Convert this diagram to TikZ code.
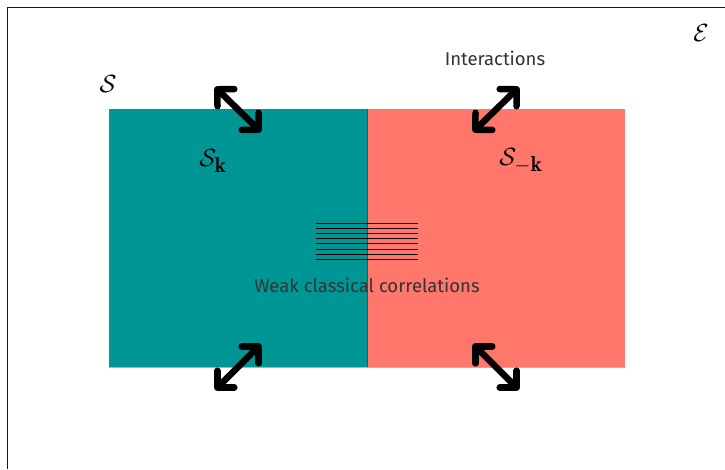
\documentclass[tikz,border=0pt]{standalone}
\usepackage{amsmath}
\usepackage{fontspec}
\setsansfont{Fira Sans}
\usetikzlibrary{arrows.meta,positioning}
\definecolor{modeteal}{RGB}{0,150,150}
\definecolor{modesalmon}{RGB}{255,118,106}
\tikzstyle{half} = [rectangle, minimum width=258pt, minimum height=258pt, inner sep=0pt, outer sep=0pt]
\tikzstyle{setname} = [inner sep=0pt, font=\fontsize{31}{35}\selectfont]
\tikzstyle{caption} = [inner sep=0pt, text=black!80, font=\sffamily\fontsize{18.5}{22}\selectfont]
\tikzstyle{interaction} = [line width=6.5pt, line cap=round, {Straight Barb[round,length=12pt,width=24pt]}-{Straight Barb[round,length=12pt,width=24pt]}]

\begin{document}
\begin{tikzpicture}[x=1pt, y=-1pt]
            \useasboundingbox (0,0) rectangle (725,469);
            % environment frame
            \draw [line width=1.5pt, black!90] (7.5,469) -- (7.5,7.5) -- (725,7.5);
            \node (env) [setname] at (701,33) {$\mathcal{E}$};
            % the two halves
            \node (left) [half, fill=modeteal] at (238,238) {};
            \node (right) [half, fill=modesalmon, right=0pt of left] {};
            \draw [black!70, line width=0.8pt] (left.north east) -- (left.south east);
            \draw [black!30, line width=0.8pt] (left.south west) -- (right.south east);
            \node (sys) [setname] at (108,84) {$\mathcal{S}$};
            \node (sysk) [setname] at (213,161) {$\mathcal{S}_{\mathbf{k}}$};
            \node (sysmk) [setname] at (521,161) {$\mathcal{S}_{-\mathbf{k}}$};
            % correlations
            \foreach \i in {0,...,7}
                \draw [line width=1pt] (316,223.3+\i*5.15) -- (418,223.3+\i*5.15);
            \node (corr) [caption] at (367,285) {Weak classical correlations};
            \node (inter) [caption] at (495,58) {Interactions};
            % interactions with the environment
            \coordinate (a1) at (215,87);
            \coordinate (b1) at (261,132);
            \coordinate (a2) at (519,87);
            \coordinate (b2) at (473,132);
            \coordinate (a3) at (261,344);
            \coordinate (b3) at (215,390);
            \coordinate (a4) at (473,344);
            \coordinate (b4) at (519,390);
            \draw [interaction] (a1) -- (b1);
            \draw [interaction] (a2) -- (b2);
            \draw [interaction] (a3) -- (b3);
            \draw [interaction] (a4) -- (b4);
        \end{tikzpicture}
\end{document}
